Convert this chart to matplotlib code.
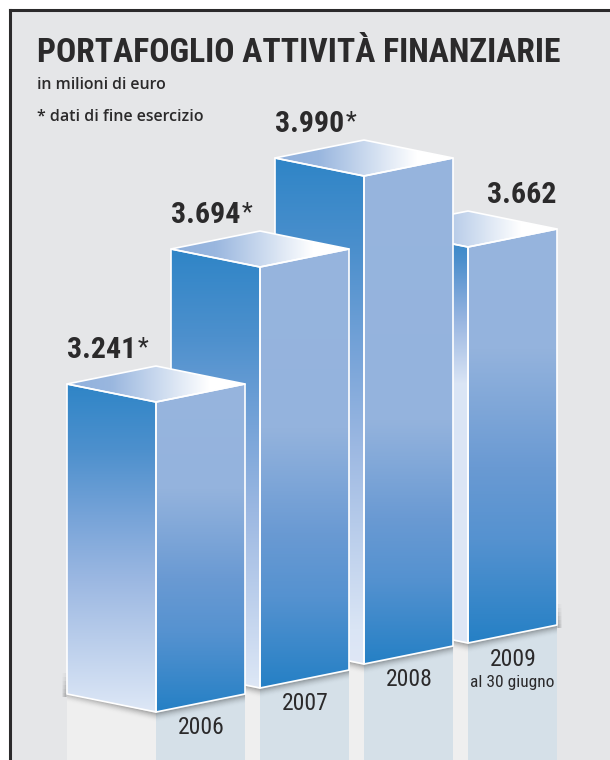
import numpy as np
import matplotlib
matplotlib.use('Agg')
import matplotlib.pyplot as plt
from matplotlib.colors import LinearSegmentedColormap
from matplotlib.patches import Polygon

years = ['2006', '2007', '2008', '2009']
values = [3241, 3694, 3990, 3662]
starred = [True, True, True, False]

title = 'PORTAFOGLIO ATTIVITÀ FINANZIARIE'
subtitle = 'in milioni di euro'
note = '* dati di fine esercizio'
last_note = 'al 30 giugno'

# the drawing is not proportional, this is its own value -> pixel scale
scale_values = [3241, 3662, 3694, 3990]
scale_px = [310, 396, 421, 488]

W, H = 610, 760
half = 89
depth = 18
floor_y = [712, 688, 664, 643]
# how far down each bar keeps its gradient, read per bar
left_fade = [1.0, 1.0, 0.95, 0.38]
right_hold = [0.32, 0.41, 0.52, 0.29]
narrow = 'Roboto Condensed'
ink = '#2b2a2b'

top_cmap = LinearSegmentedColormap.from_list('t', [(0, '#8fb0dc'), (0.25, '#9ab7df'), (0.8, '#ffffff'),
                                                   (1, '#ffffff')])

fig = plt.figure(figsize=(W / 100, H / 100), dpi=100, facecolor='white')
ax = fig.add_axes([0, 0, 1, 1])
ax.set_xlim(0, W)
ax.set_ylim(H, 0)
ax.axis('off')

ax.add_patch(Polygon([(10, 10), (W, 10), (W, H), (10, H)], fc='#e5e6e8', ec='none', zorder=0))
ax.plot([10, 10], [H, 10], color=ink, lw=2.2, solid_capstyle='projecting', zorder=1)
ax.plot([10, W], [10, 10], color=ink, lw=2.2, solid_capstyle='projecting', zorder=1)


def left_map(f):
    return LinearSegmentedColormap.from_list('l', [(0, '#2f85c7'), (0.2 * f, '#4d90cd'), (0.4 * f, '#76a3d8'),
                                                   (0.6 * f, '#9cb8e2'), (f * 0.98, '#dae5f5'), (1, '#dfe7f6')])


def right_map(p):
    return LinearSegmentedColormap.from_list('r', [(0, '#97b5de'), (p, '#94b3dd'), (p + (1 - p) * 0.4, '#6a9ad3'),
                                                   (p + (1 - p) * 0.65, '#5592d0'), (1, '#2580c5')])


def face(pts, cmap, horizontal=False):
    xs = [p[0] for p in pts]
    ys = [p[1] for p in pts]
    grad = np.linspace(0, 1, 256)
    grad = grad.reshape(1, -1) if horizontal else grad.reshape(-1, 1)
    im = ax.imshow(grad, cmap=cmap, vmin=0, vmax=1, aspect='auto', interpolation='bilinear',
                   extent=(min(xs), max(xs), max(ys), min(ys)), zorder=z)
    poly = Polygon(pts, fc='none', ec='white', lw=1.2, zorder=z + 0.1, joinstyle='round')
    ax.add_patch(poly)
    im.set_clip_path(poly)


# back to front, 2009 first
z = 2
for i in range(len(years) - 1, -1, -1):
    x0 = 67 + 104 * i
    xf = x0 + half
    x1 = xf + half
    yb = floor_y[i]
    h = np.interp(values[i], scale_values, scale_px)
    yt = yb - h

    # reflection on the floor
    ax.add_patch(Polygon([(x0, yb - depth - 2), (xf, yb), (xf, H), (x0, H)], fc='#efefef', ec='none', zorder=z))
    ax.add_patch(Polygon([(xf, yb), (x1, yb - depth), (x1, H), (xf, H)], fc='#d5e0e8', ec='none', zorder=z))
    z += 1

    # soft shadow under the bottom edges
    for k in range(1, 10):
        ax.plot([x0, xf, x1], [yb - depth - 2 + k, yb + k, yb - depth + k], color='black', lw=1.5,
                alpha=0.2 * (1 - k / 10) ** 2, zorder=z, solid_capstyle='butt')
    # and a little on the outer sides, tapering upwards
    if i == 0 or i == len(years) - 1:
        sx = x0 if i == 0 else x1
        sign = -1 if i == 0 else 1
        for k in range(1, 5):
            for j in range(1, 7):
                ax.plot([sx + sign * k] * 2, [yb - depth + 3 - 4 * j, yb - depth + 3], color='black', lw=1.2,
                        alpha=0.035 * (1 - k / 5), zorder=z, solid_capstyle='butt')
    z += 1

    face([(x0, yt - depth), (xf, yt), (xf, yb), (x0, yb - depth)], left_map(left_fade[i]))
    face([(xf, yt), (x1, yt - depth), (x1, yb - depth), (xf, yb)], right_map(right_hold[i]))
    face([(x0, yt - depth), (xf, yt - 2 * depth), (x1, yt - depth), (xf, yt)], top_cmap, horizontal=True)
    z += 1

    ax.text(xf + 45, yb + 16, years[i], family=narrow, fontsize=17, color=ink, ha='center', va='center', zorder=50)
    if i == len(years) - 1:
        ax.text(xf + 44, yb + 39, last_note, family=narrow, fontsize=12.5, color=ink, ha='center', va='center',
                zorder=50)

    label = f'{values[i]:,}'.replace(',', '.')
    lx = x0 if starred[i] else xf + 19
    t = ax.text(lx, yt - 2 * depth - 16, label, family=narrow, weight='bold', fontsize=21.5, color=ink,
                ha='left', va='center', zorder=50)
    if starred[i]:
        fig.canvas.draw()
        ext = t.get_window_extent()
        ax.text(ext.x1 + 1, yt - 2 * depth - 18, '*', family=narrow, fontsize=18, color=ink, ha='left',
                va='center', zorder=50)

ax.text(37, 53, title, family=narrow, weight='bold', fontsize=24.2, color=ink, ha='left', va='center', zorder=50)
ax.text(37, 85, subtitle, family='Open Sans', weight='semibold', fontsize=11.4, color=ink, ha='left', va='center',
        zorder=50)
ax.text(37, 117, note, family='Open Sans', weight='semibold', fontsize=11.5, color=ink, ha='left', va='center',
        zorder=50)

ax.set_xlim(0, W)
ax.set_ylim(H, 0)
fig.savefig('out.png', dpi=100, facecolor='white')
